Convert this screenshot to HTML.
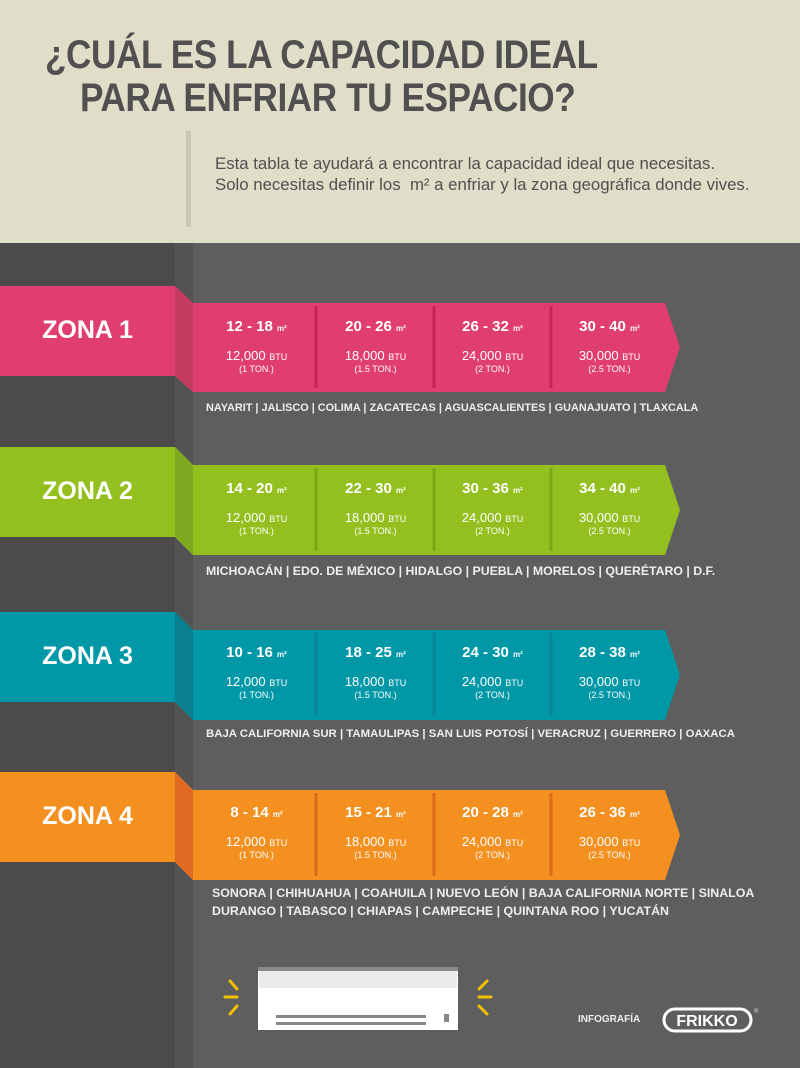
<!DOCTYPE html>
<html><head><meta charset="utf-8"><style>
*{margin:0;padding:0}
body{width:800px;height:1068px;position:relative;overflow:hidden;background:#5e5e5e;font-family:"Liberation Sans",sans-serif}
.a{position:absolute;white-space:nowrap}
.t{font-weight:bold;color:#505050;font-size:40px;transform-origin:0 0;transform:scaleX(0.88);letter-spacing:-0.5px}
.sub{color:#505050;font-size:16.8px}
.zl{color:#fff;font-weight:bold;font-size:25px;width:175px;text-align:center}
.c{color:#fff;text-align:center;width:117px}
.c b{font-size:15px;display:block}
.c b small{font-size:8px}
.c .bt{font-size:13px;display:block;margin-top:14px;line-height:13px}
.c .bt small{font-size:9px}
.c .tn{font-size:9px;display:block}
.st{color:#eee;font-weight:bold;font-size:11.5px}
</style></head><body>
<div class="a" style="left:0;top:0;width:800px;height:243px;background:#e0dec8"></div>
<div class="a" style="left:0;top:243px;width:175px;height:825px;background:#4b4b4b"></div>
<div class="a" style="left:175px;top:243px;width:18px;height:825px;background:#535353"></div>
<div class="a t" style="left:45px;top:33px">¿CUÁL ES LA CAPACIDAD IDEAL</div>
<div class="a t" style="left:80px;top:76px">PARA ENFRIAR TU ESPACIO?</div>
<div class="a" style="left:186px;top:131px;width:5px;height:96px;background:#c8c7b3"></div>
<div class="a sub" style="left:215px;top:154px">Esta tabla te ayudará a encontrar la capacidad ideal que necesitas.</div>
<div class="a sub" style="left:215px;top:175px">Solo necesitas definir los &nbsp;m² a enfriar y la zona geográfica donde vives.</div>

<svg class="a" style="left:0;top:0" width="800" height="1068">
<polygon points="0,286 175,286 193,303 193,392 175,376 0,376" fill="#e03e6f"/>
<polygon points="175,286 193,303 193,392 175,376" fill="#c53c60"/>
<polygon points="193,303 665,303 680,347 665,392 193,392" fill="#e03e6f"/>
<g stroke="#c42553" stroke-width="3"><line x1="316" y1="306" x2="316" y2="388"/><line x1="434" y1="306" x2="434" y2="388"/><line x1="551" y1="306" x2="551" y2="388"/></g>
<polygon points="0,447 175,447 193,465 193,555 175,537 0,537" fill="#93c01f"/>
<polygon points="175,447 193,465 193,555 175,537" fill="#80a820"/>
<polygon points="193,465 665,465 680,510 665,555 193,555" fill="#93c01f"/>
<g stroke="#78a818" stroke-width="3"><line x1="316" y1="468" x2="316" y2="551"/><line x1="434" y1="468" x2="434" y2="551"/><line x1="551" y1="468" x2="551" y2="551"/></g>
<polygon points="0,612 175,612 193,630 193,720 175,702 0,702" fill="#0097a7"/>
<polygon points="175,612 193,630 193,720 175,702" fill="#0a7f8e"/>
<polygon points="193,630 665,630 680,675 665,720 193,720" fill="#0097a7"/>
<g stroke="#0a8494" stroke-width="3"><line x1="316" y1="633" x2="316" y2="716"/><line x1="434" y1="633" x2="434" y2="716"/><line x1="551" y1="633" x2="551" y2="716"/></g>
<polygon points="0,772 175,772 193,790 193,880 175,862 0,862" fill="#f39020"/>
<polygon points="175,772 193,790 193,880 175,862" fill="#e06a22"/>
<polygon points="193,790 665,790 680,835 665,880 193,880" fill="#f39020"/>
<g stroke="#de6a1c" stroke-width="3"><line x1="316" y1="793" x2="316" y2="876"/><line x1="434" y1="793" x2="434" y2="876"/><line x1="551" y1="793" x2="551" y2="876"/></g>
<rect x="258" y="967" width="200" height="63" fill="#fff"/>
<rect x="258" y="967" width="200" height="4" fill="#8a8a8a"/>
<rect x="259" y="971" width="198" height="17" fill="#ebebeb"/>
<rect x="276" y="1015" width="150" height="3" fill="#888"/>
<rect x="276" y="1022" width="150" height="3" fill="#888"/>
<rect x="444" y="1014" width="5" height="8" fill="#888"/>
<g stroke="#f5c000" stroke-width="3" stroke-linecap="round">
<line x1="230" y1="981" x2="237" y2="989"/><line x1="225" y1="997" x2="237" y2="997"/><line x1="230" y1="1014" x2="237" y2="1006"/>
<line x1="487" y1="981" x2="479" y2="989"/><line x1="491" y1="997" x2="479" y2="997"/><line x1="487" y1="1014" x2="479" y2="1006"/>
</g>
<rect x="664" y="1009" width="87" height="22" rx="11" fill="none" stroke="#fff" stroke-width="3"/>
<text x="707" y="1026" fill="#fff" font-family="Liberation Sans" font-weight="bold" font-size="16" text-anchor="middle">FRIKKO</text>
<text x="754" y="1013" fill="#ddd" font-family="Liberation Sans" font-size="6">®</text>
</svg>
<div class="a" style="left:578px;top:1014px;color:#eee;font-size:10px;font-weight:bold">INFOGRAFÍA</div>

<div class="a zl" style="left:0;top:316px">ZONA 1</div>
<div class="a zl" style="left:0;top:477px">ZONA 2</div>
<div class="a zl" style="left:0;top:642px">ZONA 3</div>
<div class="a zl" style="left:0;top:802px">ZONA 4</div>

<div class="a c" style="left:198px;top:318px"><b>12 - 18 <small>m²</small></b><span class="bt">12,000 <small>BTU</small></span><span class="tn">(1 TON.)</span></div>
<div class="a c" style="left:317px;top:318px"><b>20 - 26 <small>m²</small></b><span class="bt">18,000 <small>BTU</small></span><span class="tn">(1.5 TON.)</span></div>
<div class="a c" style="left:434px;top:318px"><b>26 - 32 <small>m²</small></b><span class="bt">24,000 <small>BTU</small></span><span class="tn">(2 TON.)</span></div>
<div class="a c" style="left:551px;top:318px"><b>30 - 40 <small>m²</small></b><span class="bt">30,000 <small>BTU</small></span><span class="tn">(2.5 TON.)</span></div>

<div class="a c" style="left:198px;top:480px"><b>14 - 20 <small>m²</small></b><span class="bt">12,000 <small>BTU</small></span><span class="tn">(1 TON.)</span></div>
<div class="a c" style="left:317px;top:480px"><b>22 - 30 <small>m²</small></b><span class="bt">18,000 <small>BTU</small></span><span class="tn">(1.5 TON.)</span></div>
<div class="a c" style="left:434px;top:480px"><b>30 - 36 <small>m²</small></b><span class="bt">24,000 <small>BTU</small></span><span class="tn">(2 TON.)</span></div>
<div class="a c" style="left:551px;top:480px"><b>34 - 40 <small>m²</small></b><span class="bt">30,000 <small>BTU</small></span><span class="tn">(2.5 TON.)</span></div>

<div class="a c" style="left:198px;top:644px"><b>10 - 16 <small>m²</small></b><span class="bt">12,000 <small>BTU</small></span><span class="tn">(1 TON.)</span></div>
<div class="a c" style="left:317px;top:644px"><b>18 - 25 <small>m²</small></b><span class="bt">18,000 <small>BTU</small></span><span class="tn">(1.5 TON.)</span></div>
<div class="a c" style="left:434px;top:644px"><b>24 - 30 <small>m²</small></b><span class="bt">24,000 <small>BTU</small></span><span class="tn">(2 TON.)</span></div>
<div class="a c" style="left:551px;top:644px"><b>28 - 38 <small>m²</small></b><span class="bt">30,000 <small>BTU</small></span><span class="tn">(2.5 TON.)</span></div>

<div class="a c" style="left:198px;top:804px"><b>8 - 14 <small>m²</small></b><span class="bt">12,000 <small>BTU</small></span><span class="tn">(1 TON.)</span></div>
<div class="a c" style="left:317px;top:804px"><b>15 - 21 <small>m²</small></b><span class="bt">18,000 <small>BTU</small></span><span class="tn">(1.5 TON.)</span></div>
<div class="a c" style="left:434px;top:804px"><b>20 - 28 <small>m²</small></b><span class="bt">24,000 <small>BTU</small></span><span class="tn">(2 TON.)</span></div>
<div class="a c" style="left:551px;top:804px"><b>26 - 36 <small>m²</small></b><span class="bt">30,000 <small>BTU</small></span><span class="tn">(2.5 TON.)</span></div>

<div class="a st" style="left:206px;top:402px;font-size:10.9px">NAYARIT | JALISCO | COLIMA | ZACATECAS | AGUASCALIENTES | GUANAJUATO | TLAXCALA</div>
<div class="a st" style="left:206px;top:564px;font-size:12.3px">MICHOACÁN | EDO. DE MÉXICO | HIDALGO | PUEBLA | MORELOS | QUERÉTARO | D.F.</div>
<div class="a st" style="left:206px;top:728px;font-size:11.4px">BAJA CALIFORNIA SUR | TAMAULIPAS | SAN LUIS POTOSÍ | VERACRUZ | GUERRERO | OAXACA</div>
<div class="a st" style="left:212px;top:886px;font-size:12.4px">SONORA | CHIHUAHUA | COAHUILA | NUEVO LEÓN | BAJA CALIFORNIA NORTE | SINALOA</div>
<div class="a st" style="left:212px;top:904px;font-size:12.4px">DURANGO | TABASCO | CHIAPAS | CAMPECHE | QUINTANA ROO | YUCATÁN</div>
</body></html>
